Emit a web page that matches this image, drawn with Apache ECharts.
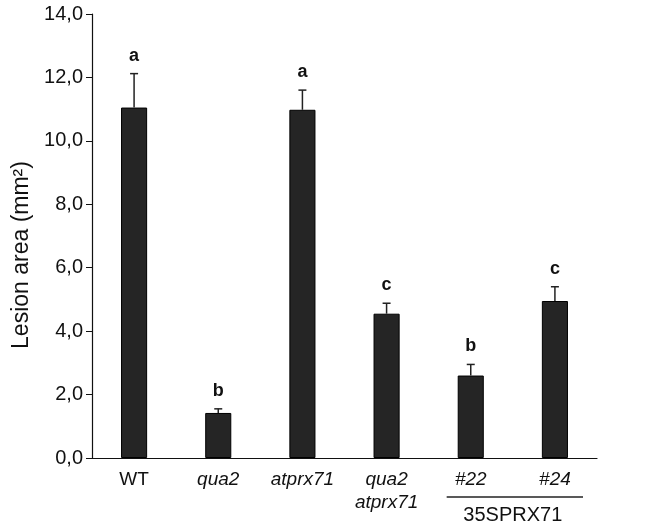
<!DOCTYPE html>
<html>
<head>
<meta charset="utf-8">
<script src="https://cdn.jsdelivr.net/npm/echarts@6/dist/echarts.min.js"></script>
<style>
  html, body { margin: 0; padding: 0; background: #fff; }
  #chart { width: 650px; height: 527px; }
</style>
</head>
<body>
<div id="chart"></div>
<script>
// data
const categories = ["WT", "qua2", "atprx71", "qua2\natprx71", "#22", "#24"];
const means = [11.05, 1.42, 10.98, 4.55, 2.6, 4.95];
const errTop = [12.12, 1.55, 11.6, 4.88, 2.95, 5.4];
const letters = ["a", "b", "a", "c", "b", "c"];
const yTicks = [0, 2, 4, 6, 8, 10, 12, 14];
const groupLabel = "35SPRX71";
const groupRange = [4, 5]; // category indexes under the 35SPRX71 line

const chart = echarts.init(document.getElementById("chart"));
const font = "'Liberation Sans', Arial, sans-serif";

const option = {
  animation: false,
  textStyle: { fontFamily: font },
  grid: { left: 92, right: 53, top: 14, bottom: 69 },
  xAxis: {
    type: "category",
    data: categories,
    axisLine: { lineStyle: { color: "#111", width: 1.2 } },
    axisTick: { show: false },
    axisLabel: {
      color: "#111",
      fontSize: 19,
      margin: 10,
      lineHeight: 23,
      fontStyle: "italic",
      formatter: function (v) {
        return v === "WT" ? "{n|WT}" : v;
      },
      rich: { n: { fontStyle: "normal", fontSize: 19, color: "#111" } }
    }
  },
  yAxis: {
    type: "value",
    min: yTicks[0],
    max: yTicks[yTicks.length - 1],
    interval: 2,
    name: "Lesion area (mm²)",
    nameLocation: "middle",
    nameGap: 58,
    nameTextStyle: { fontSize: 23, color: "#111", padding: [0, 38, 0, 0] },
    axisLine: { show: true, lineStyle: { color: "#111", width: 1.2 } },
    axisTick: { show: true, length: 6, lineStyle: { color: "#111" } },
    splitLine: { show: false },
    axisLabel: {
      color: "#111",
      fontSize: 20,
      margin: 9,
      formatter: function (v) { return v.toFixed(1).replace(".", ","); }
    }
  },
  series: [
    {
      type: "bar",
      data: means,
      barWidth: "31%",
      itemStyle: { color: "#252525", borderColor: "#000", borderWidth: 1 }
    },
    {
      type: "custom",
      data: means.map(function (m, i) { return [i, m, errTop[i]]; }),
      z: 5,
      renderItem: function (params, api) {
        const x = api.coord([api.value(0), api.value(1)])[0];
        const yLow = api.coord([api.value(0), api.value(1)])[1];
        const yHigh = api.coord([api.value(0), api.value(2)])[1];
        const style = { stroke: "#222", lineWidth: 1.5 };
        return {
          type: "group",
          children: [
            { type: "line", shape: { x1: x, y1: yLow, x2: x, y2: yHigh }, style: style },
            { type: "line", shape: { x1: x - 4, y1: yHigh, x2: x + 4, y2: yHigh }, style: style },
            {
              type: "text",
              x: x,
              y: yHigh - 9,
              style: {
                text: letters[params.dataIndex],
                fill: "#111",
                font: "bold 18px " + font,
                align: "center",
                verticalAlign: "bottom"
              }
            }
          ]
        };
      }
    }
  ]
};

chart.setOption(option);

// group annotation below the two transgenic lines
const p0 = chart.convertToPixel({ xAxisIndex: 0 }, groupRange[0]);
const p1 = chart.convertToPixel({ xAxisIndex: 0 }, groupRange[1]);
const half = chart.getModel().getComponent("xAxis", 0).axis.getBandWidth() / 2;
const baseY = chart.convertToPixel({ yAxisIndex: 0 }, 0);
chart.setOption({
  graphic: [
    {
      type: "line",
      shape: { x1: p0 - half + 18, y1: baseY + 39, x2: p1 + half - 14, y2: baseY + 39 },
      style: { stroke: "#222", lineWidth: 1.3 }
    },
    {
      type: "text",
      x: (p0 + p1) / 2,
      y: baseY + 47,
      style: {
        text: groupLabel,
        fill: "#111",
        font: "20px " + font,
        align: "center",
        verticalAlign: "top"
      }
    }
  ]
});
</script>
</body>
</html>
